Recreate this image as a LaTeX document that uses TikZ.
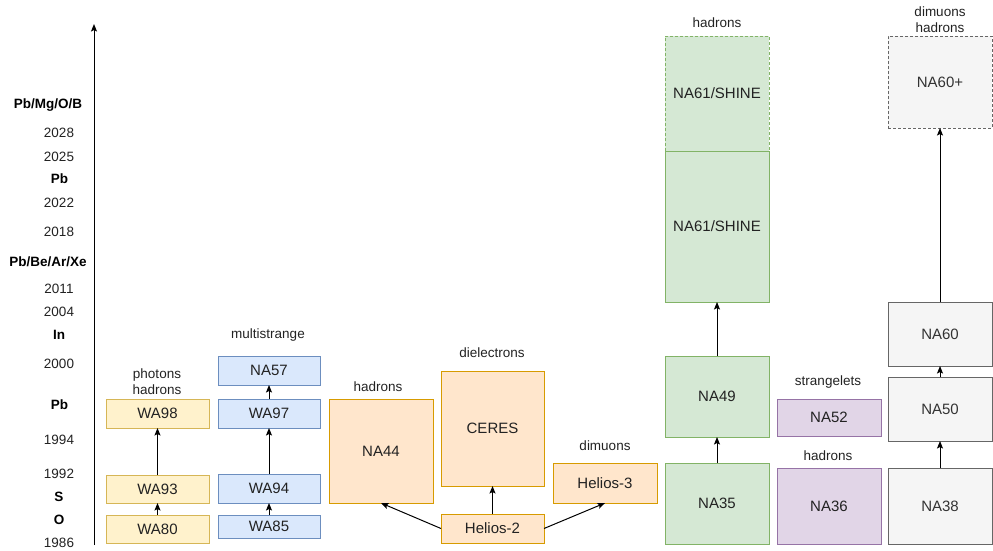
\documentclass[tikz,border=0pt]{standalone}
\usepackage{fontspec}
\setmainfont{Liberation Sans}
\usetikzlibrary{arrows.meta}
\definecolor{yfill}{HTML}{FFF2CC}\definecolor{ydraw}{HTML}{D6B656}
\definecolor{bfill}{HTML}{DAE8FC}\definecolor{bdraw}{HTML}{6C8EBF}
\definecolor{ofill}{HTML}{FFE6CC}\definecolor{odraw}{HTML}{D79B00}
\definecolor{gfill}{HTML}{D5E8D4}\definecolor{gdraw}{HTML}{82B366}
\definecolor{pfill}{HTML}{E1D5E7}\definecolor{pdraw}{HTML}{9673A6}
\definecolor{nfill}{HTML}{F5F5F5}\definecolor{ndraw}{HTML}{666666}
\definecolor{ntext}{HTML}{333333}
\definecolor{lbltext}{HTML}{222222}
\begin{document}
\begin{tikzpicture}[x=1pt,y=-1pt,
  box/.style={rectangle, draw, line width=1pt, inner sep=0pt, outer sep=0pt,
    font=\fontsize{15}{17}\selectfont, text=lbltext},
  ybox/.style={box, fill=yfill, draw=ydraw},
  bbox/.style={box, fill=bfill, draw=bdraw},
  obox/.style={box, fill=ofill, draw=odraw},
  gbox/.style={box, fill=gfill, draw=gdraw},
  pbox/.style={box, fill=pfill, draw=pdraw},
  nbox/.style={box, fill=nfill, draw=ndraw, text=ntext},
  planned/.style={dash pattern=on 3pt off 2pt},
  lbl/.style={font=\fontsize{13.5}{16.5}\selectfont, align=center, inner sep=0pt, text=lbltext},
  ax/.style={font=\fontsize{13.5}{16}\selectfont, inner sep=0pt, text=lbltext},
  axb/.style={font=\fontsize{13.5}{16}\selectfont\bfseries, inner sep=0pt, text=black},
  link/.style={-{Stealth[length=7.5pt,width=6pt,inset=1.5pt]}, line width=1pt},
]
\useasboundingbox (0,0) rectangle (993,550);

% time axis
\coordinate (axbot) at (94,545);
\coordinate (axtop) at (94,24);
\draw[link] (axbot) -- (axtop);

% axis labels: years and ion species
\node[axb] (l1) at (48,105) {Pb/Mg/O/B};
\node[ax]  (l2) at (59,133) {2028};
\node[ax]  (l3) at (59,157) {2025};
\node[axb] (l4) at (59.5,179) {Pb};
\node[ax]  (l5) at (59,203) {2022};
\node[ax]  (l6) at (59,232) {2018};
\node[axb] (l7) at (48,262) {Pb/Be/Ar/Xe};
\node[ax]  (l8) at (59,289) {2011};
\node[ax]  (l9) at (59,312) {2004};
\node[axb] (l10) at (59,335) {In};
\node[ax]  (l11) at (59,364) {2000};
\node[axb] (l12) at (59.5,405) {Pb};
\node[ax]  (l13) at (59,440) {1994};
\node[ax]  (l14) at (59,474) {1992};
\node[axb] (l15) at (59,497) {S};
\node[axb] (l16) at (59,520) {O};
\node[ax]  (l17) at (59,543) {1986};

% photons / hadrons (yellow)
\node[ybox, minimum width=103pt, minimum height=28pt] (wa80) at (157.5,529) {WA80};
\node[ybox, minimum width=103pt, minimum height=28pt] (wa93) at (157.5,489) {WA93};
\node[ybox, minimum width=103pt, minimum height=29pt] (wa98) at (157.5,413.5) {WA98};
\node[lbl] (t1) at (157,381.5) {photons\\hadrons};
\draw[link] (wa80) -- (wa93);
\draw[link] (wa93) -- (wa98);

% multistrange (blue)
\node[bbox, minimum width=102pt, minimum height=23pt] (wa85) at (269,526.5) {WA85};
\node[bbox, minimum width=102pt, minimum height=29pt] (wa94) at (269,488.5) {WA94};
\node[bbox, minimum width=102pt, minimum height=29pt] (wa97) at (269,413.5) {WA97};
\node[bbox, minimum width=102pt, minimum height=29pt] (na57) at (269,370.5) {NA57};
\node[lbl] (t2) at (268,335) {multistrange};
\draw[link] (wa85) -- (wa94);
\draw[link] (wa94) -- (wa97);
\draw[link] (wa97) -- (na57);

% Helios family (orange)
\node[obox, minimum width=104pt, minimum height=104pt] (na44) at (381,451) {NA44};
\node[obox, minimum width=103pt, minimum height=115pt] (ceres) at (492.5,428.5) {CERES};
\node[obox, minimum width=103pt, minimum height=29pt] (h2) at (492.5,528.5) {Helios-2};
\node[obox, minimum width=104pt, minimum height=40pt] (h3) at (605,483) {Helios-3};
\node[lbl] (t3) at (378,387) {hadrons};
\node[lbl] (t4) at (492,353) {dielectrons};
\node[lbl] (t5) at (605,446) {dimuons};
\draw[link] (h2.west) -- (na44.south);
\draw[link] (h2.north) -- (ceres.south);
\draw[link] (h2.east) -- (h3.south);

% hadrons (green)
\node[gbox, minimum width=104pt, minimum height=81pt] (na35) at (717,503.5) {NA35};
\node[gbox, minimum width=104pt, minimum height=81pt] (na49) at (717,396.5) {NA49};
\node[gbox, planned, minimum width=104pt, minimum height=115pt] (na61f) at (717,93.5) {NA61/SHINE};
\node[gbox, minimum width=104pt, minimum height=151pt] (na61) at (717,226.5) {NA61/SHINE};
\node[lbl] (t6) at (717,23) {hadrons};
\draw[link] (na35) -- (na49);
\draw[link] (na49) -- (na61);

% strangelets / hadrons (purple)
\node[pbox, minimum width=104pt, minimum height=37pt] (na52) at (829,417.5) {NA52};
\node[pbox, minimum width=104pt, minimum height=76pt] (na36) at (829,506) {NA36};
\node[lbl] (t7) at (828,382) {strangelets};
\node[lbl] (t8) at (828,456) {hadrons};

% dimuons / hadrons (grey)
\node[nbox, minimum width=104pt, minimum height=76pt] (na38) at (940,506) {NA38};
\node[nbox, minimum width=104pt, minimum height=64pt] (na50) at (940,409) {NA50};
\node[nbox, minimum width=104pt, minimum height=64pt] (na60) at (940,334) {NA60};
\node[nbox, planned, minimum width=104pt, minimum height=92pt] (na60p) at (940,82) {NA60+};
\node[lbl] (t9) at (940,19.5) {dimuons\\hadrons};
\draw[link] (na38) -- (na50);
\draw[link] (na50) -- (na60);
\draw[link] (na60) -- (na60p);
\end{tikzpicture}
\end{document}
